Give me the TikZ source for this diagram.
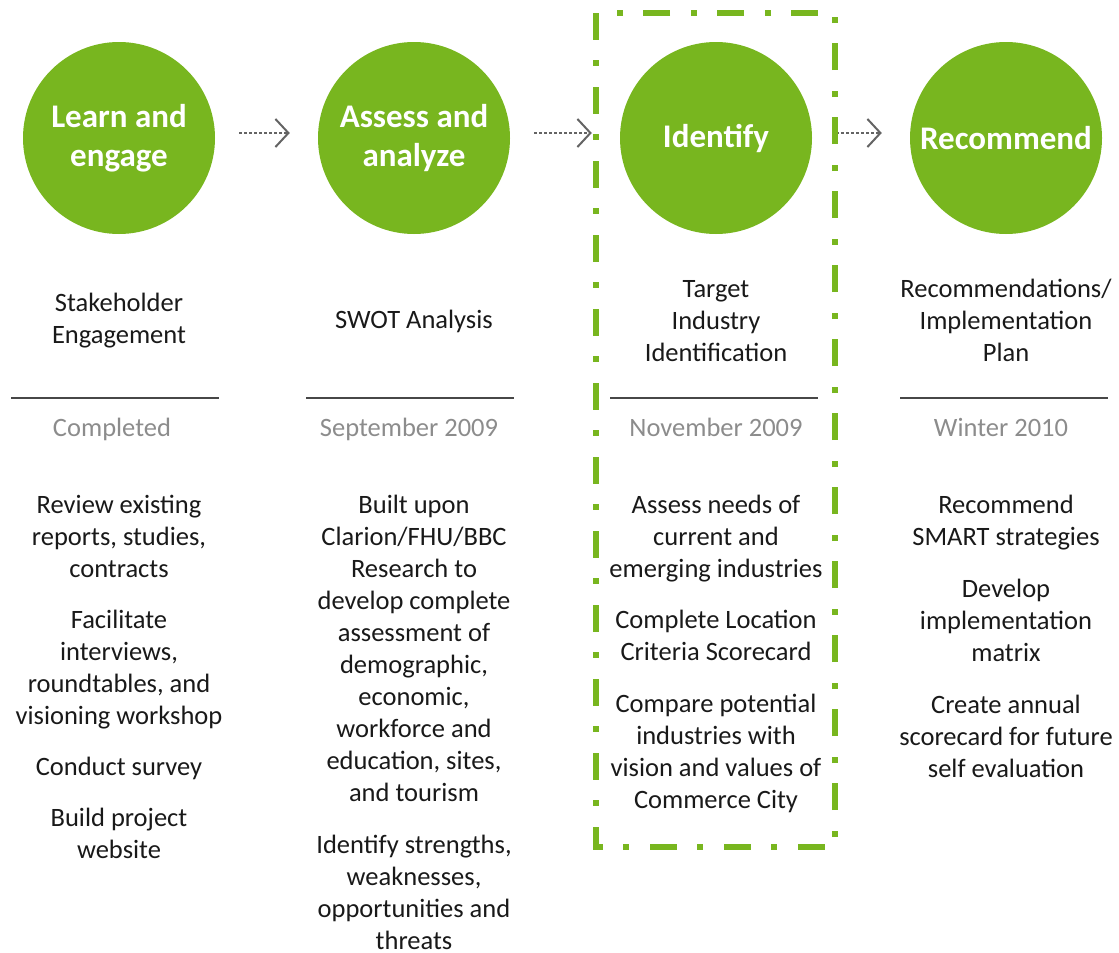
\documentclass[tikz,border=0pt]{standalone}
\usepackage{fontspec}
\setmainfont{Carlito}
\usetikzlibrary{arrows.meta,calc}
\definecolor{leafgreen}{RGB}{120,182,31}
\definecolor{arrowgray}{RGB}{100,100,100}
\definecolor{dategray}{RGB}{140,140,140}
\definecolor{inkgray}{RGB}{25,25,25}
\tikzset{
  stage/.style={circle,fill=leafgreen,minimum size=192pt,inner sep=0pt,text=white,
    font=\fontsize{33}{39}\selectfont\bfseries,align=center},
  flow/.style={draw=arrowgray,line width=2pt,dash pattern=on 2.5pt off 2.5pt,
    shorten <=24pt,shorten >=28pt,-{Straight Barb[length=13pt,width=28pt,line width=2pt]}},
  body/.style={anchor=north,inner sep=0pt,text=inkgray,align=center,
    font=\fontsize{26.5}{32}\selectfont},
  when/.style={body,text=dategray},
  rule/.style={draw=inkgray!80,line width=1.2pt},
  focusbox/.style={draw=leafgreen,line width=6pt,dash pattern=on 27pt off 20pt on 6pt off 21pt}
}
% top of a text block whose first baseline lies at #1 (strut = 22.4pt)
\newcommand{\topat}[1]{\the\numexpr#1-22\relax}
\begin{document}
\begin{tikzpicture}[x=1pt,y=1pt,yscale=-1]
\useasboundingbox (0,0) rectangle (1119,953);

%Shape: Circle
\node[stage] (learn) at (119,138) {Learn and\\engage};
\node[stage] (assess) at (414,138) {Assess and\\analyze};
\node[stage] (identify) at (716,138) {Identify};
\node[stage] (recommend) at (1006,138) {Recommend};

%Straight Lines
\draw[flow] ($(learn.east)+(0,-5)$) -- ($(assess.west)+(0,-5)$);
\draw[flow] ($(assess.east)+(0,-5)$) -- ($(identify.west)+(0,-5)$);
\draw[flow] ($(identify.east)+(0,-5)$) -- ($(recommend.west)+(0,-5)$);

% Text Node
\node[body] (learnhead) at (119,\topat{311}) {\strut Stakeholder\\Engagement};
\node[body] (assesshead) at (414,\topat{328}) {\strut SWOT Analysis};
\node[body] (identifyhead) at (716,\topat{297}) {\strut Target\\Industry\\Identification};
\node[body] (recommendhead) at (1006,\topat{297}) {\strut Recommendations/\\Implementation\\Plan};

%Straight Lines
\coordinate (l1) at (11,398);   \coordinate (r1) at (219,398);
\coordinate (l2) at (306,398);  \coordinate (r2) at (514,398);
\coordinate (l3) at (610,398);  \coordinate (r3) at (818,398);
\coordinate (l4) at (900,398);  \coordinate (r4) at (1108,398);
\draw[rule] (l1) -- (r1);
\draw[rule] (l2) -- (r2);
\draw[rule] (l3) -- (r3);
\draw[rule] (l4) -- (r4);

% Text Node
\node[when] (learndate) at (112,\topat{436}) {\strut Completed};
\node[when] (assessdate) at (409,\topat{436}) {\strut September 2009};
\node[when] (identifydate) at (716,\topat{436}) {\strut November 2009};
\node[when] (recommenddate) at (1001,\topat{436}) {\strut Winter 2010};

% Text Node
\node[body] (learntasks) at (119,\topat{513}) {\strut Review existing\\reports, studies,\\contracts\\[19pt]
  Facilitate\\interviews,\\roundtables, and\\visioning workshop\\[19pt]
  Conduct survey\\[19pt]Build project\\website};
\node[body] (assesstasks) at (414,\topat{513}) {\strut Built upon\\Clarion/FHU/BBC\\Research to\\develop complete\\assessment of\\demographic,\\economic,\\workforce and\\education, sites,\\and tourism\\[20pt]
  Identify strengths,\\weaknesses,\\opportunities and\\threats};
\node[body] (identifytasks) at (716,\topat{513}) {\strut Assess needs of\\current and\\emerging industries\\[19pt]
  Complete Location\\Criteria Scorecard\\[20pt]
  Compare potential\\industries with\\vision and values of\\Commerce City};
\node[body] (recommendtasks) at (1006,\topat{513}) {\strut Recommend\\SMART strategies\\[20pt]
  Develop\\implementation\\matrix\\[20pt]
  Create annual\\scorecard for future\\self evaluation};

%Shape: Rectangle
\draw[focusbox] (596,13) rectangle (835,847);

\end{tikzpicture}
\end{document}
